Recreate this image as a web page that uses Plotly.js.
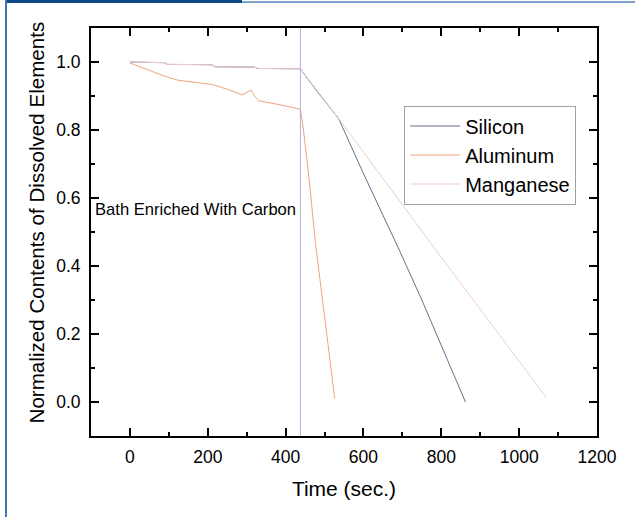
<!DOCTYPE html>
<html>
<head>
<meta charset="utf-8">
<script src="https://cdn.plot.ly/plotly-3.0.1.min.js"></script>
<style>
  html, body { margin: 0; padding: 0; background: #fff; }
  #wrap { position: relative; width: 635px; height: 517px; overflow: hidden; }
  #chart { position: absolute; left: 0; top: 0; width: 635px; height: 517px; }
  #barDark { position: absolute; left: 5px; top: 0; width: 237px; height: 3px; background: #0d4a85; }
  #barLight { position: absolute; left: 242px; top: 1px; width: 393px; height: 2px; background: #7fa3cc; }
  #leftLine { position: absolute; left: 5px; top: 0; width: 2px; height: 517px; background: #3f76b0; }
</style>
</head>
<body>
<div id="wrap">
  <div id="chart"></div>
  <div id="barDark"></div>
  <div id="barLight"></div>
  <div id="leftLine"></div>
</div>
<script>
// Silicon
const siTime = [0, 90, 95, 210, 218, 320, 328, 438, 480, 536, 600, 681, 694, 750, 800, 862];
const siValue = [1.0, 0.998, 0.993, 0.992, 0.986, 0.985, 0.981, 0.98, 0.915, 0.834, 0.672, 0.475, 0.442, 0.3, 0.165, 0.0];

// Aluminum
const alTime = [0, 45, 90, 121, 173, 215, 250, 288, 300, 311, 320, 331, 386, 433, 438, 446, 460, 476, 500, 526];
const alValue = [0.997, 0.977, 0.958, 0.947, 0.94, 0.933, 0.92, 0.903, 0.91, 0.918, 0.9, 0.886, 0.874, 0.862, 0.861, 0.8, 0.66, 0.475, 0.25, 0.01];

// Manganese
const mnTime = [0, 90, 95, 210, 218, 320, 328, 438, 536, 788, 1070];
const mnValue = [1.0, 0.998, 0.993, 0.992, 0.986, 0.985, 0.981, 0.98, 0.834, 0.444, 0.013];

// Carbon addition marker
const carbonTime = 438;
const annotationText = "Bath Enriched With Carbon";
const annotationY = 0.567;

const xTicks = [0, 200, 400, 600, 800, 1000, 1200];
const yTicks = [0.0, 0.2, 0.4, 0.6, 0.8, 1.0];

const xTitle = "Time (sec.)";
const yTitle = "Normalized Contents of Dissolved Elements";

const fontFam = "Liberation Sans, Arial, sans-serif";

const traces = [
  { x: siTime, y: siValue, name: "Silicon", mode: "lines",
    line: { color: "#6d6d8c", width: 1 } },
  { x: alTime, y: alValue, name: "Aluminum", mode: "lines",
    line: { color: "#f2a27e", width: 1 } },
  { x: mnTime, y: mnValue, name: "Manganese", mode: "lines",
    line: { color: "#f0cccc", width: 1 } }
];

const axisCommon = {
  showline: true, linecolor: "#000", linewidth: 2, mirror: "ticks",
  ticks: "inside", ticklen: 8, tickwidth: 2, tickcolor: "#000",
  showgrid: false, zeroline: false,
  tickfont: { family: fontFam, size: 17.5, color: "#000" }
};

const layout = {
  width: 635, height: 517,
  margin: { l: 91, r: 38, t: 28, b: 81 },
  paper_bgcolor: "#fff", plot_bgcolor: "#fff",
  showlegend: true,
  legend: {
    x: 0.619, y: 0.81, xanchor: "left", yanchor: "top",
    bgcolor: "#fff", bordercolor: "#a0a0a0", borderwidth: 1,
    font: { family: fontFam, size: 20, color: "#000" },
    itemwidth: 50, tracegroupgap: 0
  },
  xaxis: Object.assign({}, axisCommon, {
    range: [-100, 1200],
    tickvals: xTicks,
    ticktext: xTicks.map(String),
    ticklabelstandoff: 4,
    minor: { dtick: 100, tick0: 0, ticks: "inside", ticklen: 4, tickwidth: 2, tickcolor: "#000" },
    title: { text: xTitle, font: { family: fontFam, size: 21, color: "#000" }, standoff: 15 }
  }),
  yaxis: Object.assign({}, axisCommon, {
    range: [-0.1, 1.1],
    tickvals: yTicks,
    ticktext: yTicks.map(v => v.toFixed(1)),
    ticklabelstandoff: 5,
    minor: { dtick: 0.1, tick0: 0, ticks: "inside", ticklen: 4, tickwidth: 2, tickcolor: "#000" }
  }),
  shapes: [
    { type: "line", xref: "x", yref: "paper", x0: carbonTime, x1: carbonTime, y0: 0, y1: 1,
      line: { color: "#b4b4dc", width: 1 } }
  ],
  annotations: [
    { x: carbonTime, y: annotationY, xref: "x", yref: "y", xanchor: "right", yanchor: "middle",
      xshift: -2, showarrow: false, text: annotationText,
      font: { family: fontFam, size: 16.6, color: "#000" } },
    { x: -0.107, y: 0.523, xref: "paper", yref: "paper", xanchor: "center", yanchor: "middle",
      textangle: -90, showarrow: false, text: yTitle,
      font: { family: fontFam, size: 20.6, color: "#000" } }
  ]
};

Plotly.newPlot("chart", traces, layout, { displayModeBar: false, staticPlot: true });
</script>
</body>
</html>
